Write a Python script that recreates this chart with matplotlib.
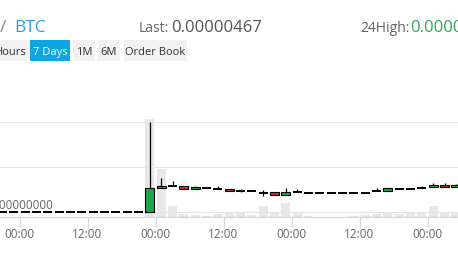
import matplotlib
matplotlib.use("Agg")
import matplotlib.pyplot as plt
from matplotlib.patches import Rectangle

plt.rcParams['font.family'] = ['Open Sans', 'DejaVu Sans']

# 2-hour candles, time in hours from the first visible 00:00
hours = [-3, -1, 1, 3, 5, 7, 9, 11, 13, 15, 17, 19, 21,
         23, 25, 27, 29, 31, 33, 35, 37, 39, 41, 43, 45, 47, 49,
         51, 53, 55, 57, 59, 61, 63, 65, 67, 69, 71, 73, 75, 77]
# prices in units of 1e-8 BTC (satoshi)
opens = [0] * 13 + [0, 427, 468, 457, 404, 427, 414, 409, 379, 368, 332, 350, 297, 361,
                    332, 332, 332, 332, 332, 343, 368, 368, 414, 414, 432, 439, 475, 439]
highs = [0] * 13 + [1600, 599, 551, 457, 460, 427, 457, 409, 414, 368, 391, 350, 432, 409,
                    332, 332, 332, 332, 332, 343, 421, 421, 414, 414, 468, 510, 510, 490]
lows = [0] * 13 + [0, 427, 468, 404, 404, 427, 414, 373, 356, 368, 284, 297, 297, 361,
                   332, 332, 332, 332, 332, 343, 368, 368, 414, 414, 432, 439, 439, 439]
closes = [0] * 13 + [427, 468, 468, 404, 450, 427, 414, 373, 379, 368, 332, 297, 350, 361,
                     332, 332, 332, 332, 332, 343, 368, 421, 414, 414, 432, 475, 439, 475]
volumes = [0] * 13 + [98, 48, 11, 3, 2, 1, 3, 4, 4, 2, 11, 5.5, 14.5, 4,
                      1.5, 0.5, 0, 0, 1.5, 2, 3, 5, 3, 4, 5, 11, 5, 4]
tick_hours = [0, 12, 24, 36, 48, 60, 72]
tick_labels = ['00:00', '12:00', '00:00', '12:00', '00:00', '12:00', '00:00']

W, H = 458, 257
fig = plt.figure(figsize=(W / 100, H / 100), dpi=100)


def fx(x):
    return x / W


def fy(y):
    return 1 - y / H


# x: 00:00 at px 19.5, 68 px per 12 h
x0 = (0 - 19.5) / (68 / 12)
x1 = (W - 19.5) / (68 / 12)

# volume pane (behind)
axv = fig.add_axes([0, fy(217), 1, (217 - 119) / H], zorder=1)
axv.bar(hours, volumes, width=1.6, color='#e8e8e8')
axv.set_xlim(x0, x1)
axv.set_ylim(0, 98)
axv.axis('off')

# price pane: 0 at px 212, 1600 at px 122
ppx = 90 / 1600
axp = fig.add_axes([0, fy(217), 1, (217 - 110) / H], zorder=2)
axp.patch.set_alpha(0)
axp.set_xlim(x0, x1)
axp.set_ylim(-5 / ppx, 1600 + 12 / ppx)
for g in [0, 800, 1600]:
    axp.axhline(g, color='#e6e6e6', lw=0.8, zorder=0)

for h, o, hi, lo, c in zip(hours, opens, highs, lows, closes):
    axp.vlines(h, lo, hi, color='black', lw=0.9, zorder=3)
    if o == c:
        axp.hlines(o, h - 0.8, h + 0.8, color='black', lw=1.4, zorder=4)
    else:
        col = '#1fa84f' if c > o else '#c4302f'
        axp.add_patch(Rectangle((h - 0.8, min(o, c)), 1.6, abs(c - o),
                                facecolor=col, edgecolor='black', lw=0.8, zorder=4))

for s in ['top', 'left', 'right']:
    axp.spines[s].set_visible(False)
axp.spines['bottom'].set_color('#ccd6eb')
axp.spines['bottom'].set_linewidth(0.8)
axp.set_yticks([])
axp.set_xticks(tick_hours)
axp.set_xticklabels(tick_labels)
axp.tick_params(axis='x', length=7, width=0.8, color='#ccd6eb',
                labelsize=8.5, labelcolor='#666666', pad=1)

fig.text(fx(53), fy(209), '0.00000000', ha='right', va='baseline',
         fontsize=8.5, color='#666666')

# header
fig.text(fx(0), fy(32), '/', fontsize=12.5, color='#888888', va='baseline')
fig.text(fx(14), fy(32), 'BTC', fontsize=12.5, color='#2e9fd8', va='baseline')
fig.text(fx(139), fy(32), 'Last:', fontsize=10, color='#666666', va='baseline')
fig.text(fx(171), fy(32), '0.00000467', fontsize=12, color='#555555', va='baseline')
fig.text(fx(360), fy(32), '24High:', fontsize=10, color='#666666', va='baseline')
fig.text(fx(410), fy(32), '0.00001600', fontsize=12, color='#2eaa57', va='baseline')

# range buttons
buttons = [('Hours', -20, 29), ('7 Days', 30, 70), ('1M', 73, 95),
           ('6M', 98, 120), ('Order Book', 124, 187)]
for label, bx0, bx1 in buttons:
    active = label == '7 Days'
    fig.add_artist(Rectangle((fx(bx0), fy(61)), fx(bx1 - bx0), 21 / H,
                             transform=fig.transFigure,
                             facecolor='#0fa3df' if active else '#f2f2f2',
                             edgecolor='none'))
    if label == 'Hours':
        fig.text(fx(27), fy(55), label, ha='right', va='baseline', fontsize=8,
                 color='#333333')
    else:
        fig.text(fx((bx0 + bx1) / 2), fy(55), label, ha='center', va='baseline',
                 fontsize=8, color='white' if active else '#333333')

fig.savefig('out.png', dpi=100)
